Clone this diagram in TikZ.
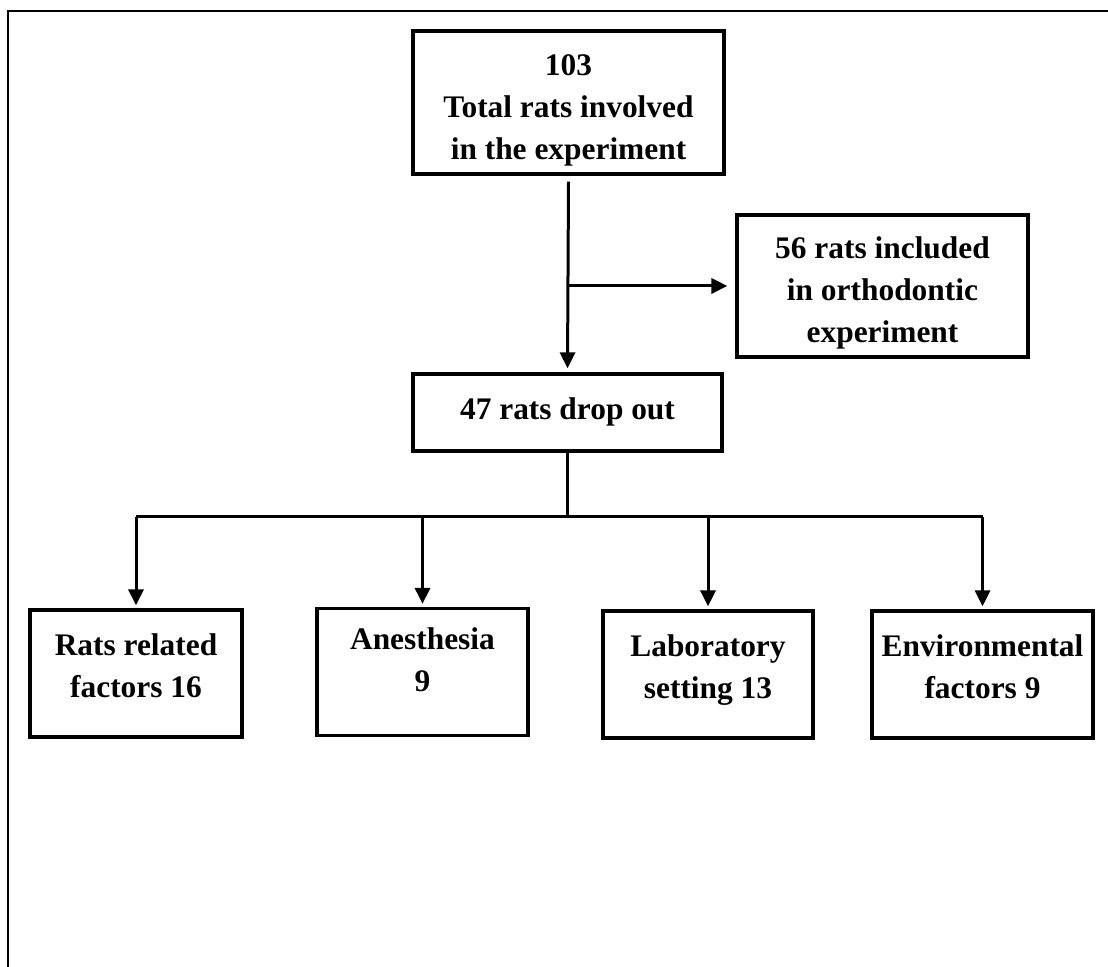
\documentclass[tikz,border=0pt]{standalone}
\usepackage{fontspec}
\setmainfont{Liberation Serif}
\usetikzlibrary{arrows.meta,positioning}

\begin{document}
\begin{tikzpicture}[x=0.5pt,y=-0.5pt]
    \tikzset{stage/.style={draw=black,line width=1.6pt,align=center,inner sep=2pt,
      font=\fontsize{15.7}{21}\selectfont\bfseries},
      tall/.style={stage,text height=57pt,text depth=0pt},
      factor/.style={stage,minimum height=63.5pt,text depth=8pt},
      link/.style={line width=1.5pt},
      feed/.style={link,-{Triangle[length=8pt,width=7.5pt]}}}
    \useasboundingbox (0,0) rectangle (1108,967);
    \draw[line width=1.4pt] (8,967) -- (8,11) -- (1108,11);
    \node[tall,minimum width=155.5pt,minimum height=71.5pt] (total) at (568.5,102.5) {103\\Total rats involved\\in the experiment};
    \node[tall,minimum width=145.5pt,minimum height=71pt] (incl) at (882.5,286) {56 rats included\\in orthodontic\\experiment};
    \node[stage,minimum width=154.5pt,minimum height=38.5pt,text depth=4pt] (drop) at (567.5,412.5) {47 rats drop out};
    \node[factor,minimum width=106pt] (rats) at (136,673.5) {Rats related\\factors 16};
    \node[factor,minimum width=105.5pt,text depth=12pt] (anes) at (422.5,672) {Anesthesia\\9};
    \node[factor,minimum width=105pt] (lab) at (708,674.5) {Laboratory\\setting 13};
    \node[factor,minimum width=110.5pt] (env) at (982.5,674.5) {Environmental\\factors 9};
    \coordinate (split) at (567.5,517);
    \draw[feed] ([yshift=-3pt]total.south) -- ([yshift=2pt]drop.north);
    \draw[feed] (total.south |- incl.west) -- ([xshift=-4pt]incl.west);
    \draw[link] (drop.south) -- (split);
    \draw[link] (rats.north |- split) -- (env.north |- split);
    \foreach \b in {rats,anes,lab,env}
      \draw[feed] (\b.north |- split) -- ([yshift=1.5pt]\b.north);
\end{tikzpicture}
\end{document}
